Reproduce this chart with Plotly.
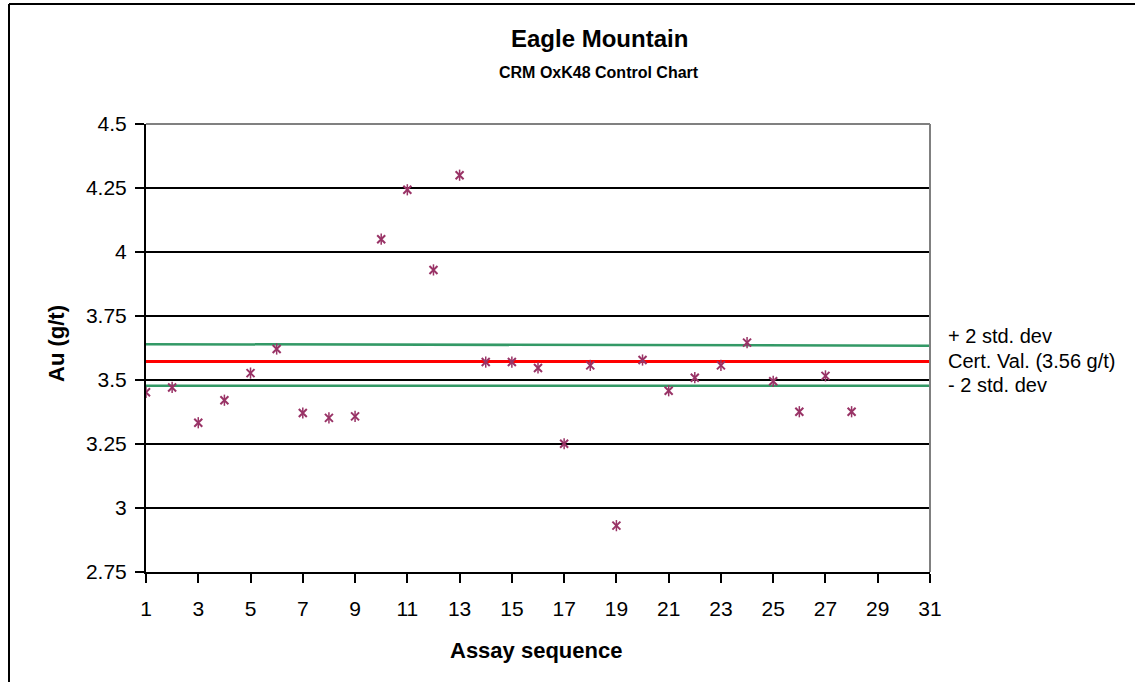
import plotly.graph_objects as go

# ---- data ----
assay_seq = list(range(1, 29))
au_values = [3.452, 3.471, 3.333, 3.421, 3.527, 3.621, 3.371, 3.352, 3.358, 4.05,
             4.243, 3.930, 4.30, 3.570, 3.570, 3.547, 3.251, 3.557, 2.931, 3.578,
             3.458, 3.509, 3.557, 3.646, 3.495, 3.376, 3.516, 3.376]
line_x = [1, 31]
upper_2sd = [3.640, 3.634]
cert_val = [3.572, 3.572]
lower_2sd = [3.478, 3.478]
y_ticks = [2.75, 3, 3.25, 3.5, 3.75, 4, 4.25, 4.5]
y_tick_text = ["2.75", "3", "3.25", "3.5", "3.75", "4", "4.25", "4.5"]
legend_labels = ["+ 2 std. dev", "Cert. Val. (3.56 g/t)", "- 2 std. dev"]

FONT = "Liberation Sans, Arial, sans-serif"
PURPLE = "#993366"
GREEN = "#339966"

fig = go.Figure()
fig.add_trace(go.Scatter(x=line_x, y=upper_2sd, mode="lines",
                         line=dict(color=GREEN, width=2.5), showlegend=False, hoverinfo="skip"))
fig.add_trace(go.Scatter(x=line_x, y=cert_val, mode="lines",
                         line=dict(color="#FF0000", width=3), showlegend=False, hoverinfo="skip"))
fig.add_trace(go.Scatter(x=line_x, y=lower_2sd, mode="lines",
                         line=dict(color=GREEN, width=2.5), showlegend=False, hoverinfo="skip"))
fig.add_trace(go.Scatter(x=assay_seq, y=au_values, mode="markers",
                         marker=dict(symbol="x-thin-open", size=8, color=PURPLE,
                                     line=dict(color=PURPLE, width=2)),
                         showlegend=False))
fig.add_trace(go.Scatter(x=assay_seq, y=au_values, mode="markers",
                         marker=dict(symbol="line-ns-open", size=8, color=PURPLE,
                                     line=dict(color=PURPLE, width=1.5)),
                         showlegend=False, hoverinfo="skip"))

W, H = 1135, 682
L, R, T, B = 146, 930, 124, 572
pw, ph = R - L, B - T

def px(x):
    return (x - L) / pw

def py(y):
    return (B - y) / ph

fig.update_layout(
    width=W, height=H,
    margin=dict(l=L, r=W - R, t=T, b=H - B, pad=0),
    paper_bgcolor="white", plot_bgcolor="white",
    font=dict(family=FONT, color="black", size=20),
    xaxis=dict(range=[1, 31], tickmode="linear", tick0=1, dtick=2,
               showgrid=False, zeroline=False, showline=True,
               linecolor="black", linewidth=2, ticks="outside",
               ticklen=9, tickwidth=1.5, tickcolor="black",
               ticklabelstandoff=8,
               tickfont=dict(size=21, family=FONT)),
    yaxis=dict(range=[2.75, 4.5], tickmode="array", tickvals=y_ticks,
               ticktext=y_tick_text, showgrid=True, gridcolor="black",
               gridwidth=1.5, zeroline=False, showline=True,
               linecolor="black", linewidth=2, ticks="outside",
               ticklen=9, tickwidth=1.5, tickcolor="black",
               ticklabelstandoff=4,
               tickfont=dict(size=21, family=FONT)),
    showlegend=False,
)

shapes = [
    # gray plot border top & right
    dict(type="line", xref="paper", yref="paper", x0=0, x1=1, y0=1, y1=1,
         line=dict(color="#808080", width=2), layer="above"),
    dict(type="line", xref="paper", yref="paper", x0=1, x1=1, y0=0, y1=1,
         line=dict(color="#808080", width=2), layer="above"),
    # outer chart frame (left and top)
    dict(type="line", xref="paper", yref="paper", x0=px(9), x1=px(9), y0=py(4), y1=py(H + 5),
         line=dict(color="black", width=2)),
    dict(type="line", xref="paper", yref="paper", x0=px(9), x1=px(W + 5), y0=py(4), y1=py(4),
         line=dict(color="black", width=2)),
]
fig.update_layout(shapes=shapes)

annotations = [
    dict(text="<b>Eagle Mountain</b>", x=px(599), y=py(38.6), xref="paper", yref="paper",
         xanchor="center", yanchor="middle", showarrow=False, font=dict(size=24, family=FONT)),
    dict(text="<b>CRM OxK48 Control Chart</b>", x=px(599), y=py(72.4), xref="paper", yref="paper",
         xanchor="center", yanchor="middle", showarrow=False, font=dict(size=16, family=FONT)),
    dict(text="<b>Assay sequence</b>", x=px(536), y=py(650), xref="paper", yref="paper",
         xanchor="center", yanchor="middle", showarrow=False, font=dict(size=22, family=FONT)),
    dict(text="<b>Au (g/t)</b>", x=px(56), y=py(344), xref="paper", yref="paper",
         xanchor="center", yanchor="middle", showarrow=False, textangle=-90,
         font=dict(size=22, family=FONT)),
]
for label, ypix in zip(legend_labels, [336, 361, 385]):
    annotations.append(dict(text=label, x=px(946), y=py(ypix), xref="paper", yref="paper",
                            xanchor="left", yanchor="middle", showarrow=False,
                            font=dict(size=20, family=FONT)))
fig.update_layout(annotations=annotations)

fig.write_html("out.html")
